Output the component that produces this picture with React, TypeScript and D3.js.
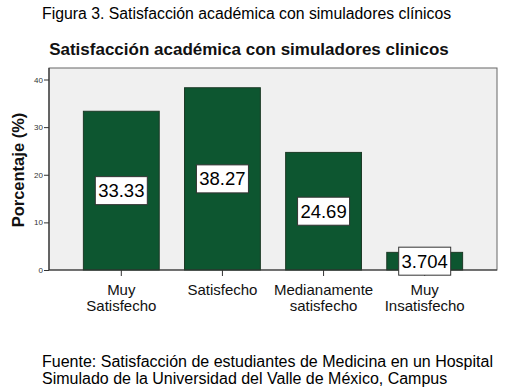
import * as d3 from 'd3';
import { useRef, useEffect } from 'react';

const categories = ['Muy Satisfecho', 'Satisfecho', 'Medianamente satisfecho', 'Muy Insatisfecho'];
const labelLines = [['Muy', 'Satisfecho'], ['Satisfecho'], ['Medianamente', 'satisfecho'], ['Muy', 'Insatisfecho']];
const values = [33.33, 38.27, 24.69, 3.704];
const valueLabels = ['33.33', '38.27', '24.69', '3.704'];
const yTicks = [0, 10, 20, 30, 40];

function App() {
    const width = 506;
    const height = 388;
    const plotLeft = 49;
    const plotRight = 497;
    const plotTop = 68;
    const plotBottom = 270;

    const x = d3.scaleBand(categories, [plotLeft, plotRight]).paddingInner(0.25).paddingOuter(0.34);
    const y = d3.scaleLinear([0, 40], [plotBottom, 79.5]);

    const gy = useRef(null);
    const gx = useRef(null);

    useEffect(() => {
        const g = d3.select(gy.current);
        g.call(d3.axisLeft(y).tickValues(yTicks).tickSize(5).tickSizeOuter(0));
        g.select('.domain').remove();
        g.selectAll('line').attr('stroke', '#333');
        g.selectAll('text').attr('font-size', 8).attr('fill', '#333').attr('x', -6).attr('font-family', 'Arial, "Liberation Sans", sans-serif');
    }, []);

    useEffect(() => {
        const g = d3.select(gx.current);
        g.call(d3.axisBottom(x).tickSize(6).tickSizeOuter(0).tickFormat(() => ''));
        g.select('.domain').remove();
        g.selectAll('line').attr('stroke', '#333');
    }, []);

    const font = 'Arial, "Liberation Sans", sans-serif';

    return (
        <svg width={width} height={height} style={{ position: 'absolute', left: 0, top: 0, background: '#fff' }} fontFamily={font}>
            <text x={42} y={19} fontSize={15.8} fill="#000">Figura 3. Satisfacción académica con simuladores clínicos</text>
            <text x={249} y={55} fontSize={17} fontWeight="bold" textAnchor="middle" fill="#111">Satisfacción académica con simuladores clinicos</text>

            <rect x={plotLeft} y={plotTop} width={plotRight - plotLeft} height={plotBottom - plotTop} fill="#f0f0f0" stroke="#666" strokeWidth={1} />

            {values.map((v, i) => (
                <rect key={i} x={x(categories[i])} y={y(v)} width={x.bandwidth()} height={y(0) - y(v)} fill="#0d5630" stroke="#1c3a26" strokeWidth={1} />
            ))}

            <line x1={plotLeft} x2={plotRight} y1={plotBottom} y2={plotBottom} stroke="#333" strokeWidth={1.2} />
            <line x1={plotLeft} x2={plotLeft} y1={plotTop} y2={plotBottom} stroke="#333" strokeWidth={1.2} />

            <g ref={gy} transform={`translate(${plotLeft},0)`} />
            <g ref={gx} transform={`translate(0,${plotBottom})`} />

            {values.map((v, i) => {
                const cx = x(categories[i]) + x.bandwidth() / 2;
                const cy = (y(v) + y(0)) / 2;
                const w = valueLabels[i].length * 9.6 + 4;
                return (
                    <g key={i}>
                        <rect x={cx - w / 2} y={cy - 14} width={w} height={28} fill="#fff" stroke="#333" strokeWidth={1} />
                        <text x={cx} y={cy + 6.5} fontSize={18.5} textAnchor="middle" fill="#000">{valueLabels[i]}</text>
                    </g>
                );
            })}

            {labelLines.map((lines, i) => {
                const cx = x(categories[i]) + x.bandwidth() / 2;
                return (
                    <text key={i} x={cx} y={295} fontSize={15} textAnchor="middle" fill="#111">
                        {lines.map((l, j) => (
                            <tspan key={j} x={cx} dy={j === 0 ? 0 : 15.5}>{l}</tspan>
                        ))}
                    </text>
                );
            })}

            <text transform="translate(24,170) rotate(-90)" fontSize={16.5} fontWeight="bold" textAnchor="middle" fill="#111">Porcentaje (%)</text>

            <text x={42} y={367} fontSize={16} fill="#000">Fuente: Satisfacción de estudiantes de Medicina en un Hospital</text>
            <text x={42} y={384} fontSize={16} fill="#000">Simulado de la Universidad del Valle de México, Campus</text>
        </svg>
    );
}

export default App;
